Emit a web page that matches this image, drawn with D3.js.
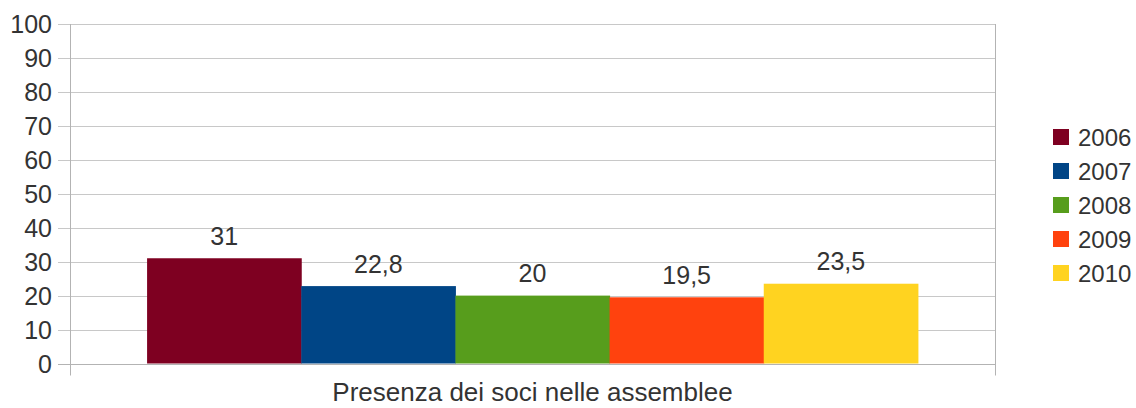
<!DOCTYPE html>
<html>
<head>
<meta charset="utf-8">
<script src="https://cdn.jsdelivr.net/npm/d3@7"></script>
<style>
  body { margin: 0; background: #fff; }
  text { font-family: "Liberation Sans", Arial, sans-serif; fill: #333; }
</style>
</head>
<body>
<div id="chart"></div>
<script>
// data
var category = "Presenza dei soci nelle assemblee";
var years = ["2006", "2007", "2008", "2009", "2010"];
var values = [31, 22.8, 20, 19.5, 23.5];
var colors = ["#7e0021", "#004586", "#579d1c", "#ff420e", "#ffd320"];
var yTicks = [0, 10, 20, 30, 40, 50, 60, 70, 80, 90, 100];

var width = 1136, height = 408;
var margin = {top: 24, left: 70, right: 141, bottom: 44.5};
var plotW = width - margin.left - margin.right;
var plotH = height - margin.top - margin.bottom;

var svg = d3.select("#chart").append("svg")
    .attr("width", width)
    .attr("height", height);

var y = d3.scaleLinear().domain([0, 100]).range([margin.top + plotH, margin.top]);
var x0 = d3.scaleBand().domain([category]).range([margin.left, margin.left + plotW]).paddingInner(0).paddingOuter(0.1);
var x1 = d3.scaleBand().domain(years).range([0, x0.bandwidth()]);

// gridlines
svg.append("g")
    .selectAll("line")
    .data(yTicks)
    .enter().append("line")
    .attr("x1", margin.left - 12)
    .attr("x2", margin.left + plotW)
    .attr("y1", function (d) { return Math.round(y(d)) + 0.5; })
    .attr("y2", function (d) { return Math.round(y(d)) + 0.5; })
    .attr("stroke", "#c8c8c8")
    .attr("stroke-width", 1);

// bars
var g = svg.append("g").attr("transform", "translate(" + x0(category) + ",0)");
g.selectAll("rect")
    .data(values)
    .enter().append("rect")
    .attr("x", function (d, i) { return x1(years[i]); })
    .attr("y", function (d) { return y(d); })
    .attr("width", x1.bandwidth() + 0.5)
    .attr("height", function (d) { return y(0) - y(d); })
    .attr("fill", function (d, i) { return colors[i]; });

// value labels
g.selectAll("text.val")
    .data(values)
    .enter().append("text")
    .attr("class", "val")
    .attr("x", function (d, i) { return x1(years[i]) + x1.bandwidth() / 2; })
    .attr("y", function (d) { return y(d) - 13.5; })
    .attr("text-anchor", "middle")
    .attr("font-size", 25)
    .text(function (d) { return String(d).replace(".", ","); });

// axes frame
var axisColor = "#b3b3b3";
svg.append("line")
    .attr("x1", margin.left + 0.5).attr("x2", margin.left + 0.5)
    .attr("y1", margin.top).attr("y2", margin.top + plotH + 12)
    .attr("stroke", axisColor);
svg.append("line")
    .attr("x1", margin.left + plotW + 0.5).attr("x2", margin.left + plotW + 0.5)
    .attr("y1", margin.top).attr("y2", margin.top + plotH + 12)
    .attr("stroke", axisColor);
svg.append("line")
    .attr("x1", margin.left - 12).attr("x2", margin.left + plotW)
    .attr("y1", Math.round(y(0)) + 0.5).attr("y2", Math.round(y(0)) + 0.5)
    .attr("stroke", axisColor);

// y tick labels
svg.append("g")
    .selectAll("text")
    .data(yTicks)
    .enter().append("text")
    .attr("x", 52)
    .attr("y", function (d) { return y(d); })
    .attr("dy", "0.36em")
    .attr("text-anchor", "end")
    .attr("font-size", 25)
    .text(function (d) { return d; });

// category label
svg.append("text")
    .attr("x", x0(category) + x0.bandwidth() / 2)
    .attr("y", 401)
    .attr("text-anchor", "middle")
    .attr("font-size", 26)
    .text(category);

// legend
var legend = svg.append("g")
    .selectAll("g")
    .data(years)
    .enter().append("g")
    .attr("transform", function (d, i) { return "translate(1053," + (129 + i * 34) + ")"; });
legend.append("rect")
    .attr("width", 16)
    .attr("height", 16)
    .attr("fill", function (d, i) { return colors[i]; });
legend.append("text")
    .attr("x", 25)
    .attr("y", 8)
    .attr("dy", "0.36em")
    .attr("font-size", 24)
    .text(function (d) { return d; });
</script>
</body>
</html>
